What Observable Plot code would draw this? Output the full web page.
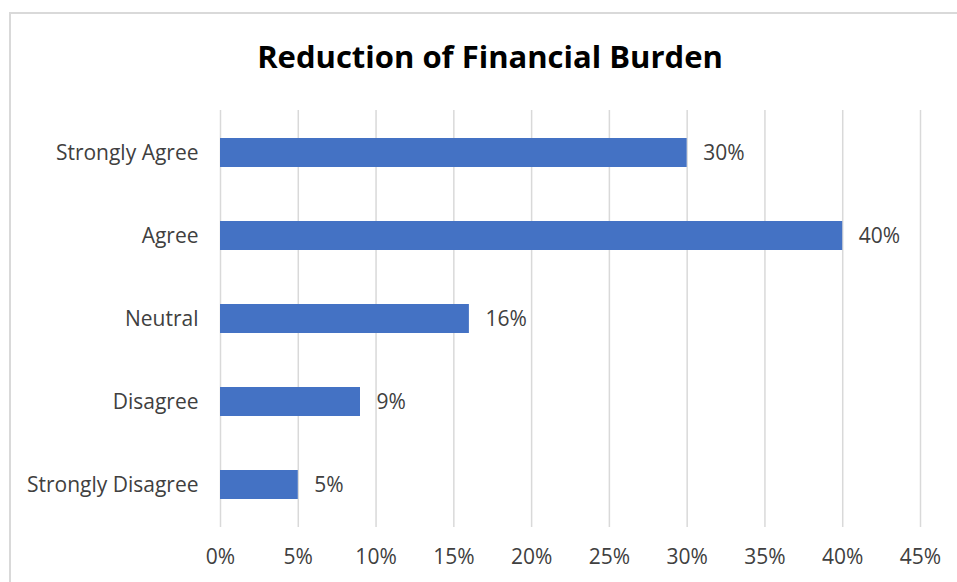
<!DOCTYPE html>
<html><head><meta charset="utf-8">
<script src="https://cdn.jsdelivr.net/npm/d3@7"></script>
<script src="https://cdn.jsdelivr.net/npm/@observablehq/plot@0.6"></script>
<style>
body{margin:0;background:#fff;}
#wrap{position:relative;width:957px;height:582px;overflow:hidden;font-family:"Open Sans",sans-serif;}
#border{position:absolute;left:9px;top:12px;width:1000px;height:700px;border:2px solid #d9d9d9;box-sizing:border-box;}
#title{position:absolute;left:0;top:35px;width:980px;text-align:center;font-weight:bold;font-size:31px;line-height:42px;color:#000;}
#plot{position:absolute;left:0;top:0;}
</style></head>
<body><div id="wrap"><div id="border"></div><div id="title">Reduction of Financial Burden</div><div id="plot"></div></div>
<script>
const categories = ["Strongly Agree","Agree","Neutral","Disagree","Strongly Disagree"];
const values = [0.30,0.40,0.16,0.09,0.05];
const xTicks = [0,0.05,0.10,0.15,0.20,0.25,0.30,0.35,0.40,0.45];
const data = categories.map((c,i)=>({category:c,value:values[i]}));
const pct = d3.format(".0%");
const chart = Plot.plot({
  width:957, height:582,
  marginLeft:220, marginRight:37, marginTop:110, marginBottom:55,
  style:{fontFamily:"Open Sans, sans-serif", fontSize:"21px", color:"#404040", background:"transparent"},
  x:{domain:[0,0.45], ticks:xTicks, tickFormat:pct, tickSize:0, tickPadding:22, label:null},
  y:{domain:categories, paddingInner:0.65, paddingOuter:0.325, tickSize:0, tickPadding:22, label:null},
  marks:[
    Plot.ruleX(xTicks,{stroke:"#d9d9d9", strokeWidth:1.5, strokeOpacity:1}),
    Plot.barX(data,{x:"value", y:"category", fill:"#4472C4"}),
    Plot.text(data,{x:"value", y:"category", text:d=>pct(d.value), textAnchor:"start", dx:16, fill:"#404040", fontSize:21})
  ]
});
document.getElementById("plot").appendChild(chart);
</script></body></html>
